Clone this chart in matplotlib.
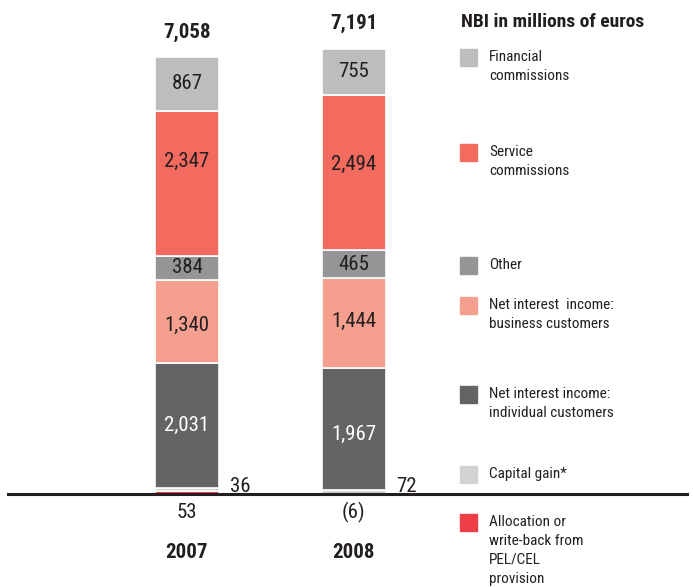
import matplotlib.pyplot as plt
from matplotlib import font_manager
import numpy as np

# prefer a condensed face that also ships a bold weight, else Liberation Sans
fonts = font_manager.fontManager.ttflist
narrow = sorted({f.name for f in fonts if 'Condensed' in f.name or 'Narrow' in f.name})
with_bold = [n for n in narrow
             if any(f.name == n and f.weight in ('bold', 700, 'heavy', 800, 'semibold', 600)
                    for f in fonts)]
preferred = ['Roboto Condensed', 'Liberation Sans Narrow', 'Open Sans Condensed',
             'Noto Sans Condensed', 'Archivo Narrow', 'PT Sans Narrow']
pick = [n for n in preferred if n in with_bold] or with_bold
if pick:
    plt.rcParams['font.family'] = [pick[0], 'DejaVu Sans']
    num_size, leg_size, head_size = 15, 11, 14
else:
    plt.rcParams['font.family'] = ['Liberation Sans', 'DejaVu Sans']
    num_size, leg_size, head_size = 13, 10, 12.3

years = ['2007', '2008']
totals = [7058, 7191]

# segments stacked from the baseline upward
allocation = [53, -6]
capital_gain = [36, 72]
nii_individual = [2031, 1967]
nii_business = [1340, 1444]
other = [384, 465]
service = [2347, 2494]
financial = [867, 755]

series = [allocation, capital_gain, nii_individual, nii_business, other, service, financial]
colors = ['#ee3e45', '#d1d2d4', '#636466', '#f5a08f', '#959597', '#f26b5e', '#bdbdbf']
names = ['Allocation or\nwrite-back from\nPEL/CEL\nprovision', 'Capital gain*',
         'Net interest income:\nindividual customers', 'Net interest  income:\nbusiness customers',
         'Other', 'Service\ncommissions', 'Financial\ncommissions']

# where inside each segment its value label sits (0 = bottom, 1 = top)
label_frac = {2: [0.5, 0.45], 3: [0.45, 0.52], 4: [0.5, 0.5], 5: [0.655, 0.555], 6: [0.5, 0.5]}

W, H = 693, 587
fig = plt.figure(figsize=(W / 100, H / 100), dpi=100)
ax = fig.add_axes([0, 0, 1, 1])
ax.axis('off')

# pixel layout: bar centres at 187 / 353.5, baseline at y=494
px_per_unit = 0.0619
step = 166.5
ax.set_xlim(-187 / step, 1 + (W - 353.5) / step)
ax.set_ylim(-(H - 494) / px_per_unit, 494 / px_per_unit)

x = np.arange(len(years))
width = 64 / step
text_col = '#231f20'

pos_bottom = np.zeros(len(years))
neg_bottom = np.zeros(len(years))
for i, (vals, col) in enumerate(zip(series, colors)):
    vals = np.array(vals, dtype=float)
    bottom = np.where(vals >= 0, pos_bottom, neg_bottom)
    ax.bar(x, vals, width=width, bottom=bottom, color=col, edgecolor='white', linewidth=1.2)
    if i in label_frac:
        for xi, v, b, fr in zip(x, vals, bottom, label_frac[i]):
            tc = 'white' if col == '#636466' else text_col
            ax.text(xi, b + v * fr, f'{int(v):,}', ha='center', va='center',
                    fontsize=num_size, color=tc)
    pos_bottom += np.where(vals >= 0, vals, 0)
    neg_bottom += np.where(vals < 0, vals, 0)

ax.axhline(0, xmin=8 / W, xmax=687 / W, color=text_col, lw=2.2, zorder=5)


def fmt(v):
    return f'({abs(v)})' if v < 0 else f'{v:,}'


for xi, t, cg, al in zip(x, totals, capital_gain, allocation):
    ax.annotate(f'{t:,}', (xi, t), xytext=(0, 18), textcoords='offset points',
                ha='center', va='center', fontsize=num_size, fontweight='bold', color=text_col)
    ax.annotate(fmt(cg), (xi + width / 2, 0), xytext=(8, 5.5), textcoords='offset points',
                ha='left', va='center', fontsize=num_size, color=text_col)
    ax.annotate(fmt(al), (xi, 0), xytext=(0, -13), textcoords='offset points',
                ha='center', va='center', fontsize=num_size, color=text_col)
    ax.annotate(years[xi], (xi, 0), xytext=(0, -42), textcoords='offset points',
                ha='center', va='center', fontsize=num_size, fontweight='bold', color=text_col)

# legend on the right, drawn by hand
fig.text(461 / W, 1 - 22 / H, 'NBI in millions of euros', ha='left', va='center',
         fontsize=head_size, fontweight='bold', color=text_col)
legend_y = [49, 144, 257, 297, 386, 466, 514]
order = [6, 5, 4, 3, 2, 1, 0]
for top, idx in zip(legend_y, order):
    fig.patches.append(plt.Rectangle((460 / W, 1 - (top + 17) / H), 17 / W, 17 / H,
                                     transform=fig.transFigure, color=colors[idx]))
    fig.text(489 / W, 1 - (top + 1) / H, names[idx], ha='left', va='top',
             fontsize=leg_size, color=text_col, linespacing=1.45)

fig.savefig('out.png', dpi=100)
